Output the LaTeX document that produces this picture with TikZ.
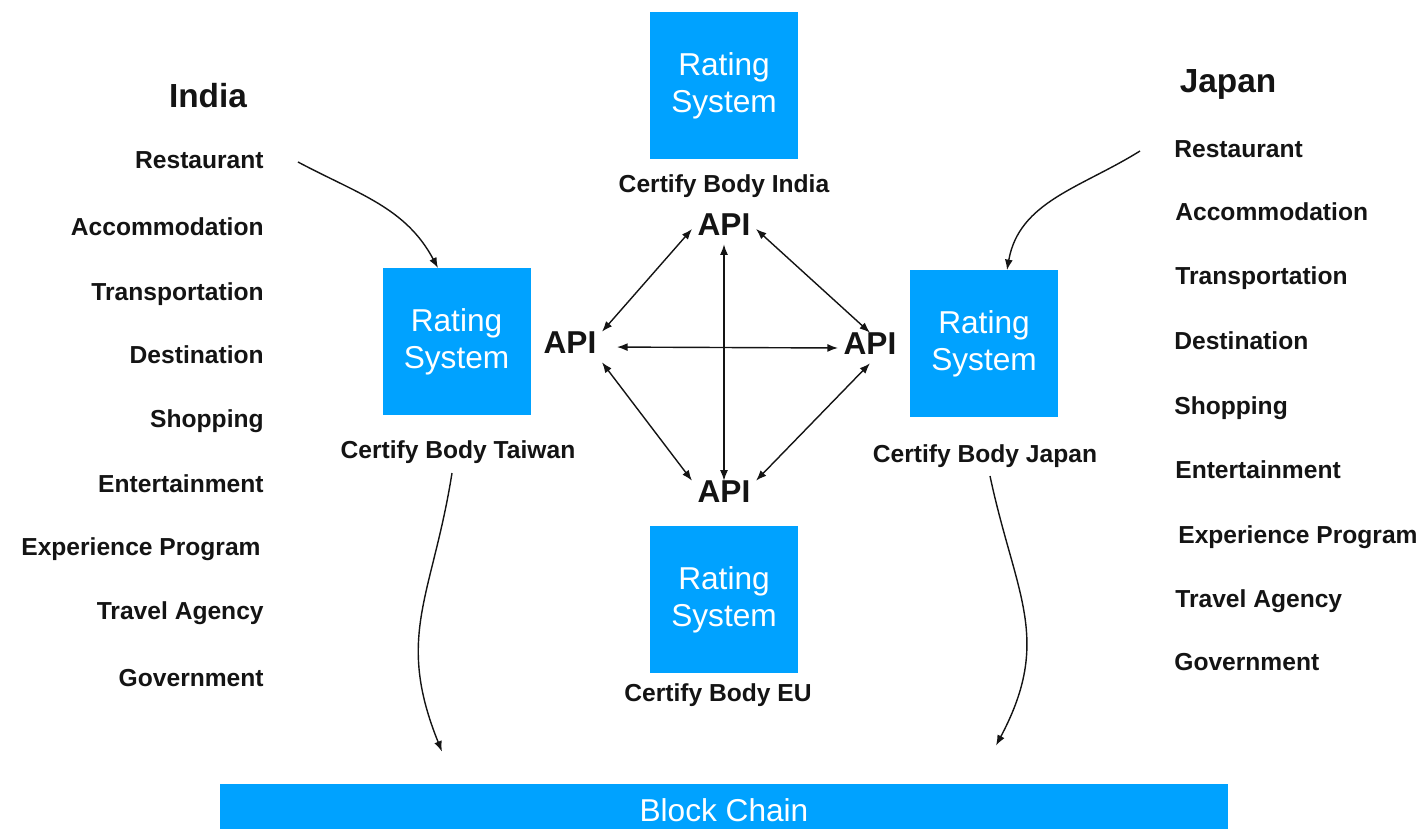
\documentclass[tikz,border=0pt]{standalone}
\usepackage{fontspec}
\setmainfont{Liberation Sans}
\usepackage{xcolor}
\usepackage{tikz}
\usetikzlibrary{arrows.meta,positioning,calc}
\definecolor{ratingblue}{RGB}{0, 162, 255}
\definecolor{inkblack}{RGB}{20, 20, 20}

\tikzset{
    ratingbox/.style={fill=ratingblue,text=white,minimum width=2.96cm,minimum height=2.94cm,
        align=center,font=\fontsize{18}{21}\selectfont,inner sep=0pt},
    itemlabel/.style={text=inkblack,font=\fontsize{14}{17}\selectfont\bfseries,
        text height=0.9em,text depth=0.2em,inner sep=0pt},
    countrylabel/.style={text=inkblack,font=\fontsize{19}{22}\selectfont\bfseries,
        text height=0.9em,text depth=0.2em,inner sep=0pt},
    apilabel/.style={text=inkblack,font=\fontsize{18}{21}\selectfont\bfseries,
        text height=0.9em,text depth=0.2em,inner sep=3pt},
    link/.style={line width=0.8pt,inkblack,{Latex[length=6pt,width=4.5pt]}-{Latex[length=6pt,width=4.5pt]}},
    flow/.style={line width=0.8pt,inkblack,-{Latex[length=6pt,width=4.5pt]}}
}

\begin{document}
\begin{tikzpicture}
    \useasboundingbox (0,0) rectangle (28.54,-16.58);

    % Rating systems of the four certify bodies
    \node[ratingbox] (india) at (14.48,-1.71) {Rating\\System};
    \node[ratingbox] (taiwan) at (9.13,-6.84) {Rating\\System};
    \node[ratingbox] (japan) at (19.68,-6.88) {Rating\\System};
    \node[ratingbox] (eu) at (14.48,-12.0) {Rating\\System};
    \node[itemlabel] (cbIndia) at (14.48,-3.72) {Certify Body India};
    \node[itemlabel] (cbTaiwan) at (9.16,-9.04) {Certify Body Taiwan};
    \node[itemlabel] (cbJapan) at (19.70,-9.12) {Certify Body Japan};
    \node[itemlabel] (cbEU) at (14.36,-13.9) {Certify Body EU};

    % API end points
    \node[apilabel] (apiTop) at (14.48,-4.58) {API};
    \node[apilabel] (apiLeft) at (11.40,-6.94) {API};
    \node[apilabel] (apiRight) at (17.40,-6.96) {API};
    \node[apilabel] (apiBot) at (14.48,-9.92) {API};

    \draw[link] (apiTop.west) -- (apiLeft.north east);
    \draw[link] (apiTop.east) -- (apiRight.north);
    \draw[link] (apiTop.south) -- (apiBot.north);
    \draw[link,shorten <=0.3cm] (apiLeft.east) -- (apiRight.west);
    \draw[link] (apiLeft.south east) -- (apiBot.north west);
    \draw[link] (apiRight.south) -- (apiBot.north east);

    % India items
    \node[countrylabel] (indiaLbl) at (4.16,-2.02) {India};
    \node[itemlabel,anchor=east] (lRest) at (5.28,-3.24) {Restaurant};
    \node[itemlabel,anchor=east] (lAcc) at (5.28,-4.58) {Accommodation};
    \node[itemlabel,anchor=east] (lTrans) at (5.28,-5.88) {Transportation};
    \node[itemlabel,anchor=east] (lDest) at (5.28,-7.14) {Destination};
    \node[itemlabel,anchor=east] (lShop) at (5.28,-8.42) {Shopping};
    \node[itemlabel,anchor=east] (lEnt) at (5.28,-9.72) {Entertainment};
    \node[itemlabel,anchor=east] (lExp) at (5.22,-10.98) {Experience Program};
    \node[itemlabel,anchor=east] (lTrav) at (5.28,-12.26) {Travel Agency};
    \node[itemlabel,anchor=east] (lGov) at (5.28,-13.6) {Government};

    % Japan items
    \node[countrylabel] (japanLbl) at (24.56,-1.72) {Japan};
    \node[itemlabel,anchor=west] (rRest) at (23.48,-3.02) {Restaurant};
    \node[itemlabel,anchor=west] (rAcc) at (23.50,-4.28) {Accommodation};
    \node[itemlabel,anchor=west] (rTrans) at (23.50,-5.56) {Transportation};
    \node[itemlabel,anchor=west] (rDest) at (23.48,-6.86) {Destination};
    \node[itemlabel,anchor=west] (rShop) at (23.48,-8.16) {Shopping};
    \node[itemlabel,anchor=west] (rEnt) at (23.50,-9.44) {Entertainment};
    \node[itemlabel,anchor=west] (rExp) at (23.56,-10.74) {Experience Program};
    \node[itemlabel,anchor=west] (rTrav) at (23.50,-12.02) {Travel Agency};
    \node[itemlabel,anchor=west] (rGov) at (23.48,-13.28) {Government};

    % Block chain
    \node[fill=ratingblue,text=white,minimum width=20.16cm,minimum height=1.04cm,
        font=\fontsize{18}{21}\selectfont,inner sep=0pt] (chain) at (14.48,-16.2) {Block Chain};

    \draw[flow] ([xshift=0.68cm]lRest.east) to[out=-28,in=118] ([xshift=-0.37cm]taiwan.north);
    \draw[flow] ([xshift=-0.68cm]rRest.west) to[out=212,in=80] ([xshift=0.46cm]japan.north);
    \draw[flow] ([shift={(-0.12,-0.22)}]cbTaiwan.south) to[out=-99,in=112,looseness=1.15] ([shift={(-5.64,0.64)}]chain.north);
    \draw[flow] ([shift={(0.1,-0.2)}]cbJapan.south) to[out=-78,in=62,looseness=1.15] ([shift={(5.44,0.76)}]chain.north);
\end{tikzpicture}
\end{document}
